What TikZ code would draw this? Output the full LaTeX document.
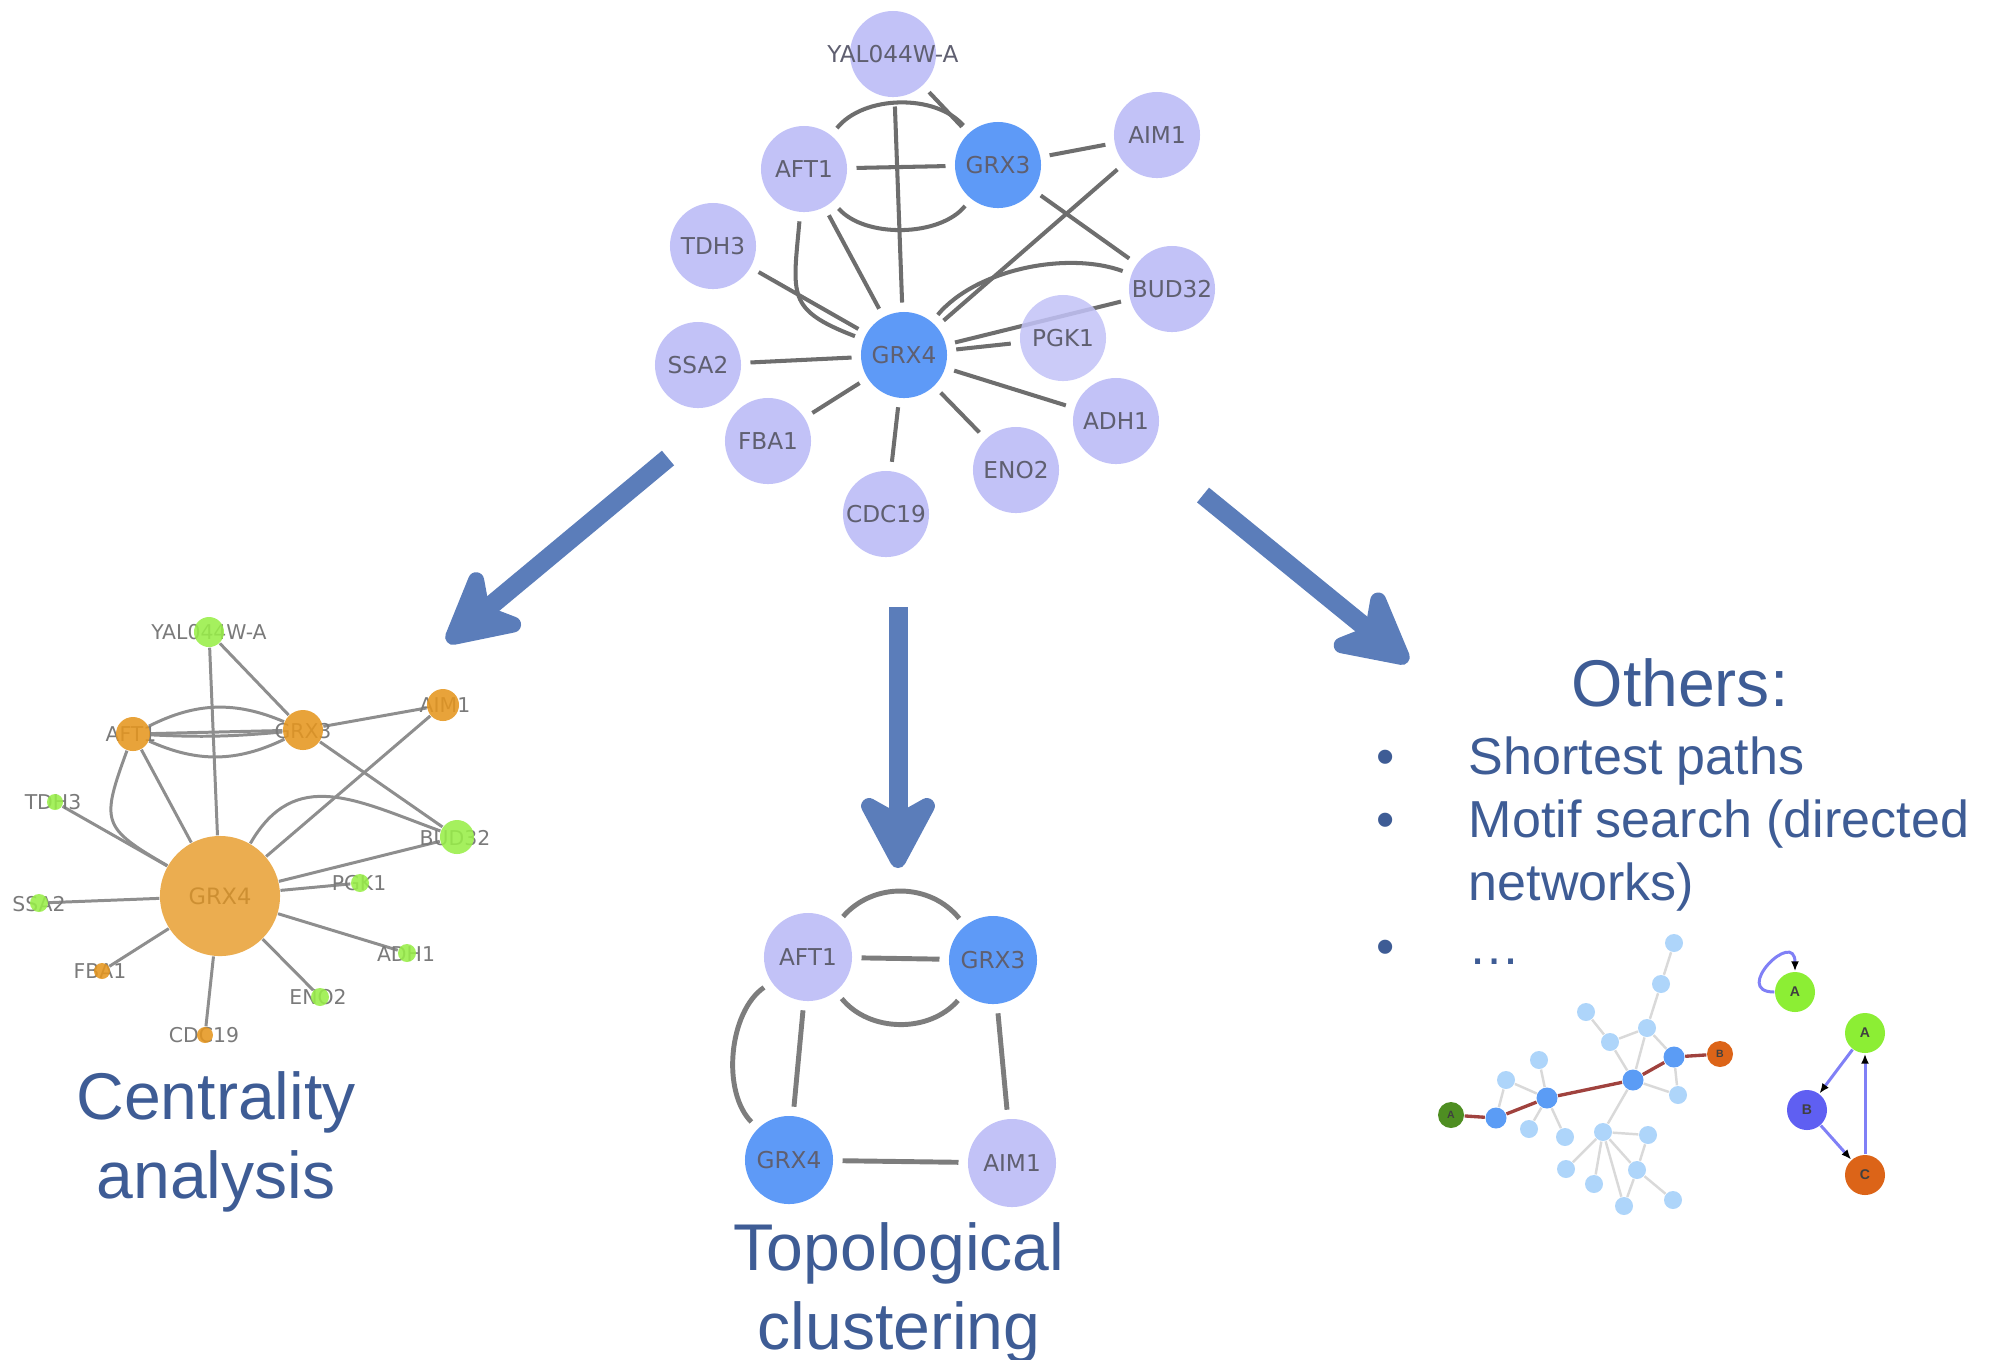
\documentclass[tikz,border=0pt]{standalone}
\usepackage{fontspec}
\setmainfont{Liberation Sans}
\newfontfamily\netfont{DejaVu Sans}
\usetikzlibrary{arrows.meta,positioning,backgrounds}
\definecolor{lav}{HTML}{C2C2F7}
\definecolor{hub}{HTML}{5E9AF7}
\definecolor{lbltext}{HTML}{5F5F70}
\definecolor{edgegray}{HTML}{6E6E6E}
\definecolor{bigblue}{HTML}{3E5C95}
\definecolor{arrowblue}{HTML}{5B7DBA}
\definecolor{cenorange}{HTML}{E5961F}
\definecolor{cengreen}{HTML}{98EE48}
\definecolor{lftedge}{HTML}{8E8E8E}
\definecolor{lftlabel}{HTML}{7A7A7A}
\definecolor{splight}{HTML}{AED5FA}
\definecolor{spblue}{HTML}{5B9CF5}
\definecolor{spgreen}{HTML}{4E8E22}
\definecolor{sporange}{HTML}{DC6418}
\definecolor{sppath}{HTML}{A0423E}
\definecolor{spedge}{HTML}{D9D9D9}
\definecolor{motifgreen}{HTML}{8CEE34}
\definecolor{motifblue}{HTML}{5F5FF2}
\definecolor{motifline}{HTML}{8080F6}
\tikzset{netnode/.style={circle,fill=lav,minimum size=0.86cm,inner sep=0pt,text=lbltext,
 font=\netfont\fontsize{6.6}{7}\selectfont},
 hubnode/.style={netnode,fill=hub},
 netlink/.style={draw=edgegray,line width=1.15pt,shorten <=2.5pt,shorten >=2.5pt},
 clulink/.style={netlink,draw=edgegray!90,line width=1.4pt},
 cenlabel/.style={text=lftlabel,inner sep=0pt,font=\netfont\fontsize{5.8}{6}\selectfont},
 cendot/.style={circle,inner sep=0pt,fill opacity=0.88},
 cenlink/.style={draw=lftedge,line width=0.85pt},
 bigtitle/.style={text=bigblue,inner sep=0pt,align=center,font=\fontsize{18.8}{22.4}\selectfont},
 bullettext/.style={text=bigblue,inner sep=0pt,align=left,anchor=base west,font=\fontsize{14.8}{17.9}\selectfont},
 fatarrow/.style={draw=arrowblue,line width=0.19cm,-{Stealth[length=0.9cm,width=0.95cm,inset=0.26cm,round]}},
 spdot/.style={circle,fill=splight,minimum size=0.18cm,inner sep=0pt},
 sphub/.style={circle,fill=spblue,minimum size=0.21cm,inner sep=0pt},
 splink/.style={draw=spedge,line width=0.7pt},
 sppathlink/.style={draw=sppath,line width=0.95pt},
 motifnode/.style={circle,minimum size=0.4cm,inner sep=0pt,text=black!75,font=\bfseries\fontsize{4}{4}\selectfont},
 motiflink/.style={draw=motifline,line width=0.85pt,-{Latex[length=0.1cm,width=0.08cm,color=black]}}}
\begin{document}
\begin{tikzpicture}[x=0.01cm,y=0.01cm]
\useasboundingbox (0,0) rectangle (1996,-1359);
% input network
\node[netnode,label={[text=lbltext,font=\netfont\fontsize{6.6}{7}\selectfont]center:YAL044W-A}] (yal) at (893,-54) {};
\node[netnode] (aft) at (804,-169) {AFT1};
\node[hubnode] (grx3) at (998,-165) {GRX3};
\node[netnode] (aim) at (1157,-135) {AIM1};
\node[netnode] (tdh) at (713,-246) {TDH3};
\node[netnode] (bud) at (1172,-289) {BUD32};
\node[netnode,fill opacity=0.85,text opacity=1] (pgk) at (1063,-338) {PGK1};
\node[hubnode] (grx4) at (904,-355) {GRX4};
\node[netnode] (ssa) at (698,-365) {SSA2};
\node[netnode] (fba) at (768,-441) {FBA1};
\node[netnode] (adh) at (1116,-421) {ADH1};
\node[netnode] (eno) at (1016,-470) {ENO2};
\node[netnode] (cdc) at (886,-514) {CDC19};
\begin{scope}[on background layer]
\draw[netlink] (yal) -- (grx3);
\draw[netlink] (yal) -- (grx4);
\draw[netlink] (aft) -- (grx3);
\draw[netlink] (aft) to[bend left=50,looseness=0.95] (grx3);
\draw[netlink] (aft) to[bend right=50,looseness=0.9] (grx3);
\draw[netlink] (grx3) -- (aim);
\draw[netlink] (grx3) -- (bud);
\draw[netlink] (aim) -- (grx4);
\draw[netlink] (grx4) to[out=50,in=160,looseness=0.85] (bud);
\draw[netlink] (grx4) -- (bud);
\draw[netlink] (grx4) -- (pgk);
\draw[netlink] (aft) -- (grx4);
\draw[netlink] (aft) to[out=-95,in=159,looseness=1.5] (grx4);
\draw[netlink] (tdh) -- (grx4);
\draw[netlink] (ssa) -- (grx4);
\draw[netlink] (fba) -- (grx4);
\draw[netlink] (cdc) -- (grx4);
\draw[netlink] (eno) -- (grx4);
\draw[netlink] (adh) -- (grx4);
\end{scope}

% fat arrows
\coordinate (arrL0) at (668,-458); \coordinate (arrL1) at (447,-642);
\coordinate (arrM0) at (898,-607); \coordinate (arrM1) at (898,-868);
\coordinate (arrR0) at (1203,-495); \coordinate (arrR1) at (1408,-662);
\draw[fatarrow] (arrL0) -- (arrL1);
\draw[fatarrow] (arrM0) -- (arrM1);
\draw[fatarrow] (arrR0) -- (arrR1);

% centrality network
\node[cenlabel] (lyalT) at (209,-632) {YAL044W-A};
\node[cenlabel] (laftT) at (131,-734) {AFT1};
\node[cenlabel] (lgrx3T) at (303,-731) {GRX3};
\node[cenlabel] (laimT) at (445,-705) {AIM1};
\node[cenlabel] (ltdhT) at (53,-802) {TDH3};
\node[cenlabel] (lbudT) at (455,-838) {BUD32};
\node[cenlabel] (lpgkT) at (359,-883) {PGK1};
\node[cenlabel,font=\netfont\fontsize{6.4}{7}\selectfont] (lgrx4T) at (220,-896) {GRX4};
\node[cenlabel] (lssaT) at (39,-904) {SSA2};
\node[cenlabel] (lfbaT) at (100,-971) {FBA1};
\node[cenlabel] (ladhT) at (406,-954) {ADH1};
\node[cenlabel] (lenoT) at (318,-997) {ENO2};
\node[cenlabel] (lcdcT) at (204,-1035) {CDC19};
\node[cendot,fill=cengreen,minimum size=0.30cm] (lyal) at (209,-632) {};
\node[cendot,fill=cenorange,minimum size=0.34cm] (laft) at (133,-734) {};
\node[cendot,fill=cenorange,minimum size=0.40cm] (lgrx3) at (303,-730) {};
\node[cendot,fill=cenorange,minimum size=0.32cm] (laim) at (443,-705) {};
\node[cendot,fill=cengreen,minimum size=0.16cm] (ltdh) at (55,-802) {};
\node[cendot,fill=cengreen,minimum size=0.34cm] (lbud) at (457,-837) {};
\node[cendot,fill=cengreen,minimum size=0.18cm] (lpgk) at (360,-883) {};
\node[cendot,fill=cenorange,fill opacity=0.78,minimum size=1.20cm] (lgrx4) at (220,-896) {};
\node[cendot,fill=cengreen,minimum size=0.18cm] (lssa) at (39,-903) {};
\node[cendot,fill=cenorange,minimum size=0.16cm] (lfba) at (102,-971) {};
\node[cendot,fill=cengreen,minimum size=0.18cm] (ladh) at (407,-953) {};
\node[cendot,fill=cengreen,minimum size=0.18cm] (leno) at (320,-997) {};
\node[cendot,fill=cenorange,minimum size=0.16cm] (lcdc) at (205,-1035) {};
\begin{scope}[on background layer]
\draw[cenlink] (lyal) -- (lgrx3);
\draw[cenlink] (lyal) -- (lgrx4);
\draw[cenlink] (laft) -- (lgrx3);
\draw[cenlink] (laft) to[bend right=4] (lgrx3);
\draw[cenlink] (laft) to[bend left=25] (lgrx3);
\draw[cenlink] (laft) to[bend right=25] (lgrx3);
\draw[cenlink] (lgrx3) -- (laim);
\draw[cenlink] (lgrx3) -- (lbud);
\draw[cenlink] (laim) -- (lgrx4);
\draw[cenlink] (lgrx4) to[out=60,in=160,looseness=1.2] (lbud);
\draw[cenlink] (lgrx4) -- (lbud);
\draw[cenlink] (lgrx4) -- (lpgk);
\draw[cenlink] (laft) -- (lgrx4);
\draw[cenlink] (laft) to[out=-110,in=150,looseness=1.6] (lgrx4);
\draw[cenlink] (ltdh) -- (lgrx4);
\draw[cenlink] (lssa) -- (lgrx4);
\draw[cenlink] (lfba) -- (lgrx4);
\draw[cenlink] (lcdc) -- (lgrx4);
\draw[cenlink] (leno) -- (lgrx4);
\draw[cenlink] (ladh) -- (lgrx4);
\end{scope}
\node[bigtitle,anchor=base] (centr) at (216,-1198) {Centrality\\analysis};

% clustering result
\node[netnode,minimum size=0.88cm] (caft) at (808,-957) {AFT1};
\node[hubnode,minimum size=0.88cm] (cgrx3) at (993,-960) {GRX3};
\node[hubnode,minimum size=0.88cm] (cgrx4) at (789,-1160) {GRX4};
\node[netnode,minimum size=0.88cm] (caim) at (1012,-1163) {AIM1};
\begin{scope}[on background layer]
\draw[clulink] (caft) -- (cgrx3);
\draw[clulink] (caft) to[bend left=50,looseness=1.1] (cgrx3);
\draw[clulink] (caft) to[bend right=50,looseness=1.05] (cgrx3);
\draw[clulink] (caft) -- (cgrx4);
\draw[clulink] (caft) to[bend right=50,looseness=0.9] (cgrx4);
\draw[clulink] (cgrx3) -- (caim);
\draw[clulink] (cgrx4) -- (caim);
\end{scope}
\node[bigtitle,anchor=base] (topo) at (899,-1349) {Topological\\clustering};

% others
\node[bigtitle,anchor=base] (others) at (1680,-706) {Others:};
\node[bullettext,anchor=base] (bul1) at (1386,-774) {•};
\node[bullettext,anchor=base] (bul2) at (1386,-837) {•};
\node[bullettext,anchor=base] (bul3) at (1386,-964) {•};
\node[bullettext] (item1) at (1468,-774) {Shortest paths};
\node[bullettext] (item2) at (1468,-900) {Motif search (directed\\networks)};
\node[bullettext] (item3) at (1468,-964) {…};

% shortest path sketch
\node[spdot] (spl1) at (1674,-943) {};
\node[spdot] (spl2) at (1661,-984) {};
\node[spdot] (spl3) at (1647,-1028) {};
\node[spdot] (spl4) at (1586,-1012) {};
\node[spdot] (spl5) at (1610,-1042) {};
\node[spdot] (spl6) at (1539,-1060) {};
\node[spdot] (spl7) at (1506,-1080) {};
\node[spdot] (spl8) at (1529,-1129) {};
\node[spdot] (spl9) at (1565,-1137) {};
\node[spdot] (spl10) at (1678,-1095) {};
\node[spdot] (spl11) at (1603,-1132) {};
\node[spdot] (spl12) at (1648,-1135) {};
\node[spdot] (spl13) at (1566,-1169) {};
\node[spdot] (spl14) at (1594,-1184) {};
\node[spdot] (spl15) at (1637,-1170) {};
\node[spdot] (spl16) at (1624,-1206) {};
\node[spdot] (spl17) at (1673,-1200) {};
\node[sphub] (sph1) at (1496,-1118) {};
\node[sphub] (sph2) at (1547,-1098) {};
\node[sphub] (sph3) at (1633,-1080) {};
\node[sphub] (sph4) at (1674,-1057) {};
\node[motifnode,fill=spgreen,minimum size=0.26cm,font=\bfseries\fontsize{3}{3}\selectfont] (spa) at (1451,-1115) {A};
\node[motifnode,fill=sporange,minimum size=0.26cm,font=\bfseries\fontsize{3}{3}\selectfont] (spb) at (1720,-1054) {B};
\begin{scope}[on background layer]
\draw[splink] (sph1) -- (spl7);
\draw[splink] (sph2) -- (spl6);
\draw[splink] (sph2) -- (spl7);
\draw[splink] (sph2) -- (spl8);
\draw[splink] (sph2) -- (spl9);
\draw[splink] (sph3) -- (spl5);
\draw[splink] (sph3) -- (spl3);
\draw[splink] (sph3) -- (spl10);
\draw[splink] (sph3) -- (spl11);
\draw[splink] (spl4) -- (spl5);
\draw[splink] (spl5) -- (spl3);
\draw[splink] (spl3) -- (spl2);
\draw[splink] (spl2) -- (spl1);
\draw[splink] (spl3) -- (sph4);
\draw[splink] (sph4) -- (spl10);
\draw[splink] (spl11) -- (spl12);
\draw[splink] (spl11) -- (spl13);
\draw[splink] (spl11) -- (spl14);
\draw[splink] (spl11) -- (spl16);
\draw[splink] (spl11) -- (spl15);
\draw[splink] (spl12) -- (spl15);
\draw[splink] (spl15) -- (spl16);
\draw[splink] (spl15) -- (spl17);
\draw[sppathlink] (spa) -- (sph1) -- (sph2) -- (sph3) -- (sph4) -- (spb);
\end{scope}

% motifs
\node[motifnode,fill=motifgreen] (mloop) at (1795,-992) {A};
\node[motifnode,fill=motifgreen] (mtA) at (1865,-1033) {A};
\node[motifnode,fill=motifblue] (mtB) at (1807,-1110) {B};
\node[motifnode,fill=sporange] (mtC) at (1865,-1175) {C};
\draw[motiflink] (mloop.west) to[out=180,in=90,looseness=3.8] (mloop.north);
\draw[motiflink] (mtA) -- (mtB);
\draw[motiflink] (mtB) -- (mtC);
\draw[motiflink] (mtC) -- (mtA);
\end{tikzpicture}
\end{document}
